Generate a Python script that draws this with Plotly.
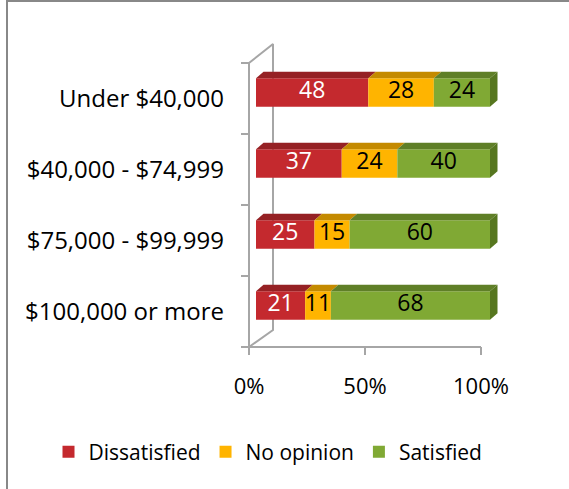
import plotly.graph_objects as go

# ---------------- data ----------------
categories = ["Under $40,000", "$40,000 - $74,999", "$75,000 - $99,999", "$100,000 or more"]
series_names = ["Dissatisfied", "No opinion", "Satisfied"]
dissatisfied = [48, 37, 25, 21]
no_opinion = [28, 24, 15, 11]
satisfied = [24, 40, 60, 68]
x_tick_vals = [0, 50, 100]
x_tick_text = ["0%", "50%", "100%"]

# ---------------- styles ----------------
FRONT = ["#C4292E", "#FFB400", "#80A934"]
TOP = ["#952124", "#C48A00", "#5F7F27"]
SIDE = "#56761F"
TEXT_COL = ["white", "black", "black"]
AXIS_COL = "#A6A6A6"
FONT = "Open Sans"

W, H = 569, 489
PL, PR, PT, PB = 236, 500, 40, 358          # plot area in pixels
PXX = 2.32                                   # px per x unit (front plane)
PXY = 71.0                                   # px per category
X0 = -(249 - PL) / PXX
X1 = X0 + (PR - PL) / PXX
Y0 = -0.5 - (PB - 347) / PXY
Y1 = Y0 + (PB - PT) / PXY


def dxp(p):
    return p / PXX


def dyp(p):
    return p / PXY


def paper_x(px):
    return (px - PL) / (PR - PL)


def paper_y(py):
    return (PB - py) / (PB - PT)


n = len(categories)
series = [dissatisfied, no_opinion, satisfied]
fig = go.Figure()

# ---------------- 3-D wall / floor lines ----------------
wall_dx, wall_dy_top, wall_dy_bot = dxp(24), dyp(19), dyp(17)
top_b, bot_b = n - 0.5, -0.5
fig.add_trace(go.Scatter(
    x=[0, 0, wall_dx, wall_dx, 0, None, 0, 100],
    y=[bot_b, top_b, top_b + wall_dy_top, bot_b + wall_dy_bot, bot_b, None, bot_b, bot_b],
    mode="lines", line=dict(color=AXIS_COL, width=2), hoverinfo="skip", showlegend=False))
# tick marks
tx, ty = [], []
for b in range(n + 1):
    tx += [0, -dxp(8), None]
    ty += [b - 0.5, b - 0.5, None]
for v in x_tick_vals:
    tx += [v, v, None]
    ty += [bot_b, bot_b - dyp(8), None]
fig.add_trace(go.Scatter(x=tx, y=ty, mode="lines", line=dict(color=AXIS_COL, width=2),
                         hoverinfo="skip", showlegend=False))

# ---------------- bars ----------------
BAR_OFF = dxp(7)
BAR_SCALE = 2.34 / 2.32
half = dyp(14.25)
lift = dyp(6)
ddx, ddy = dxp(7.5), dyp(6.5)

lab_x, lab_y, lab_t, lab_c = [], [], [], []
for i, cat in enumerate(categories):
    k = n - 1 - i
    vals = [s[i] for s in series]
    tot = sum(vals)
    yc = k + lift
    yb, yt = yc - half, yc + half
    cum = 0.0
    for j, v in enumerate(vals):
        a = BAR_OFF + cum / tot * 100 * BAR_SCALE
        cum += v
        b = BAR_OFF + cum / tot * 100 * BAR_SCALE
        fig.add_trace(go.Scatter(x=[a, b, b, a, a], y=[yb, yb, yt, yt, yb], fill="toself",
                                 fillcolor=FRONT[j], mode="lines", line=dict(width=0),
                                 hoverinfo="skip", showlegend=False))
        fig.add_trace(go.Scatter(x=[a, b, b + ddx, a + ddx, a], y=[yt, yt, yt + ddy, yt + ddy, yt],
                                 fill="toself", fillcolor=TOP[j], mode="lines", line=dict(width=0),
                                 hoverinfo="skip", showlegend=False))
        if j == len(vals) - 1:
            fig.add_trace(go.Scatter(x=[b, b + ddx, b + ddx, b, b],
                                     y=[yb, yb + ddy, yt + ddy, yt, yb],
                                     fill="toself", fillcolor=SIDE, mode="lines", line=dict(width=0),
                                     hoverinfo="skip", showlegend=False))
        lab_x.append((a + b) / 2)
        lab_y.append(yc)
        lab_t.append(str(v))
        lab_c.append(TEXT_COL[j])

fig.add_trace(go.Scatter(x=lab_x, y=lab_y, text=lab_t, mode="text", textposition="middle center",
                         textfont=dict(family=FONT, size=23, color=lab_c),
                         hoverinfo="skip", showlegend=False))

# ---------------- legend entries ----------------
for j, name in enumerate(series_names):
    fig.add_trace(go.Scatter(x=[None], y=[None], mode="markers", name=name,
                             marker=dict(symbol="square", size=13, color=FRONT[j])))

# ---------------- border ----------------
fig.add_shape(type="rect", xref="paper", yref="paper",
              x0=paper_x(7), x1=paper_x(W + 20), y0=paper_y(1), y1=paper_y(H + 20),
              line=dict(color="#888888", width=2), fillcolor="rgba(0,0,0,0)", layer="below")

fig.update_layout(
    width=W, height=H,
    margin=dict(l=PL, r=W - PR, t=PT, b=H - PB, pad=0, autoexpand=False),
    paper_bgcolor="white", plot_bgcolor="white",
    font=dict(family=FONT, size=23, color="black"),
    xaxis=dict(range=[X0, X1], tickvals=x_tick_vals, ticktext=x_tick_text, ticks="",
               showgrid=False, zeroline=False, showline=False, ticklabelstandoff=13,
               automargin=False, tickfont=dict(family=FONT, size=22, color="black")),
    yaxis=dict(range=[Y0, Y1], tickvals=[n - 1 - i for i in range(n)], ticktext=categories,
               ticks="", showgrid=False, zeroline=False, showline=False, ticklabelstandoff=11,
               automargin=False, tickfont=dict(family=FONT, size=24, color="black")),
    legend=dict(orientation="h", x=paper_x(48.5), y=paper_y(452),
                xanchor="left", yanchor="middle", font=dict(family=FONT, size=21, color="black"),
                itemsizing="constant", tracegroupgap=0, bgcolor="rgba(0,0,0,0)"),
    showlegend=True,
)

fig.write_html("out.html", config={"displayModeBar": False},
               post_script="document.body.style.margin='0px';")
